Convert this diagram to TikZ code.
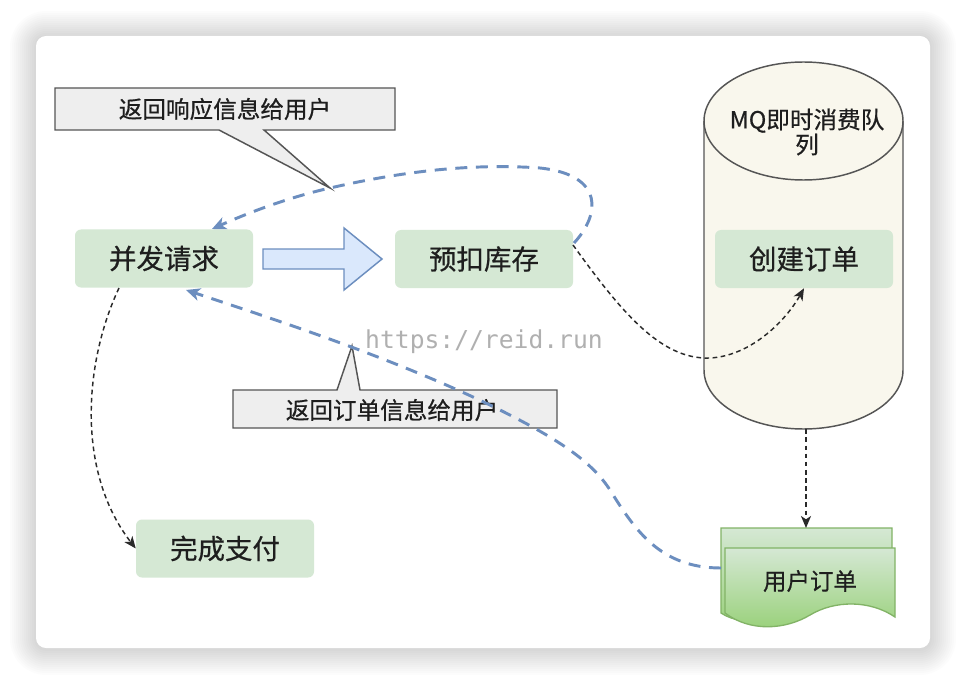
\documentclass[tikz,border=0pt]{standalone}
\usepackage{fontspec}
\setmainfont{Noto Sans CJK SC}[BoldFont={Noto Sans CJK SC}, BoldFeatures={FakeBold=0.6}]
\newfontfamily\wmfont{DejaVu Sans Mono}
\usetikzlibrary{arrows.meta,calc}
\definecolor{boxgreen}{HTML}{D5E8D4}
\definecolor{txt}{HTML}{1E1E1E}
\definecolor{bluel}{HTML}{6C8EBF}
\definecolor{bluef}{HTML}{DAE8FC}
\definecolor{calfill}{HTML}{EEEEEE}
\definecolor{calline}{HTML}{555555}
\definecolor{cylfill}{HTML}{F9F7ED}
\definecolor{doctop}{HTML}{D5E8D4}
\definecolor{docbot}{HTML}{97D077}
\definecolor{docline}{HTML}{82B366}
\definecolor{blk}{HTML}{2A2A2A}
\definecolor{wmgray}{HTML}{B0B0B0}
\begin{document}
\begin{tikzpicture}[x=0.75pt,y=-0.75pt,
  gbox/.style={fill=boxgreen, rounded corners=4.5pt, minimum width=133.5pt,
    minimum height=43.5pt, inner sep=0pt, text=txt,
    font=\bfseries\fontsize{20.6pt}{24pt}\selectfont},
  caltext/.style={inner sep=0pt, text=txt, font=\bfseries\fontsize{17.7pt}{21pt}\selectfont},
  callout/.style={fill=calfill, draw=calline, line width=1.1pt, line join=miter},
  bluedash/.style={draw=bluel, line width=2.2pt, dash pattern=on 9pt off 6.5pt,
    -{Stealth[length=10.5pt,width=9.5pt,inset=3pt]}, bluel},
  blackdash/.style={draw=blk, line width=1.1pt, dash pattern=on 3.5pt off 2.6pt,
    -{Stealth[length=9pt,width=7.5pt,inset=2.5pt]}, blk},
  docshape/.style={top color=doctop, bottom color=docbot, draw=docline, line width=1pt}
]
\useasboundingbox (0,0) rectangle (966,684);
\fill[white] (0,0) rectangle (966,684);
% card shadow
\foreach \i in {1,...,13}{
  \pgfmathsetmacro\rr{7.5+1.5*\i}
  \fill[black, opacity=0.013, rounded corners=\rr pt]
    ({36-2*\i},{37-2*\i}) rectangle ({930+2*\i},{649+2*\i});
}
\fill[white, rounded corners=7.5pt] (36,36) rectangle (930,648);

% callout 1
\path[callout] (55,88) -- (395,88) -- (395,130) -- (264,130) -- (330,188)
  -- (219,130) -- (55,130) -- cycle;
\node[caltext] (c1) at (225,109) {返回响应信息给用户};
\coordinate (c1tip) at (330,188);

% callout 2
\path[callout] (233,390) -- (337,390) -- (352,346) -- (360,390) -- (557,390)
  -- (557,428) -- (233,428) -- cycle;
\node[caltext] (c2) at (392,410) {返回订单信息给用户};

% cylinder
\node[minimum width=149.25pt, minimum height=275.25pt, inner sep=0pt] (cyl) at (803.5,245.5) {};
\path[fill=cylfill, draw=calline, line width=1.1pt]
  (704,121) -- (704,370)
  arc[start angle=180, end angle=360, x radius=74.625pt, y radius=44.25pt]
  -- (903,121)
  arc[start angle=0, end angle=180, x radius=74.625pt, y radius=44.25pt] -- cycle;
\draw[calline, line width=1.1pt] (704,121)
  arc[start angle=180, end angle=360, x radius=74.625pt, y radius=44.25pt];
\node[align=center, inner sep=0pt, text=txt,
  font=\bfseries\fontsize{17.7pt}{18.75pt}\selectfont] (mq) at (807,132) {MQ即时消费队\\列};

% green boxes
\node[gbox] (bf) at (164,258.5) {并发请求};
\node[gbox] (yk) at (484,259) {预扣库存};
\node[gbox] (cj) at (804,259) {创建订单};
\node[gbox] (wc) at (225,548.5) {完成支付};

% block arrow
\path[fill=bluef, draw=bluel, line width=1.1pt, line join=miter]
  (263,249) -- (344,249) -- (344,228) -- (382,259) -- (344,290) -- (344,269)
  -- (263,269) -- cycle;

% documents
\path[docshape] (721,528) -- (892,528) -- (892,600)
  .. controls (867,585) and (832,585) .. (807,600)
  .. controls (782,616) and (747,630) .. (721,613) -- cycle;
\path[docshape] (725,548) -- (895,548) -- (895,617)
  .. controls (870,600) and (835,600) .. (810,615)
  .. controls (785,630) and (750,632) .. (725,613) -- cycle;
\node[inner sep=0pt, text=txt, font=\bfseries\fontsize{17.6pt}{21pt}\selectfont] (doc) at (810,581) {用户订单};
\coordinate (docl) at (721,568);
\coordinate (doctopc) at (806,528);

% black dashed connectors
\draw[blackdash] (573,245) .. controls (620,310) and (660,360) .. (710,358)
  .. controls (750,356) and (785,322) .. (cj.south);
\draw[blackdash] (119,288) .. controls (85,360) and (75,470) .. (wc.west);
\draw[blackdash] (cyl.south -| doctopc) -- (doctopc);

% blue dashed connectors
\draw[bluedash] (574,243) .. controls (600,215) and (605,175) .. (540,168)
  .. controls (470,163) and (400,172) .. (c1tip)
  .. controls (290,197) and (250,212) .. (212,229);
\draw[bluedash] (docl) .. controls (660,568) and (635,530) .. (610,490)
  .. controls (592,462) and (560,440) .. (500,410)
  .. controls (400,360) and (270,318) .. (186,290);

% watermark
\node[inner sep=0pt, text=wmgray, font=\wmfont\fontsize{18.5pt}{22pt}\selectfont] (wm) at (484,342) {https://reid.run};
\end{tikzpicture}
\end{document}
